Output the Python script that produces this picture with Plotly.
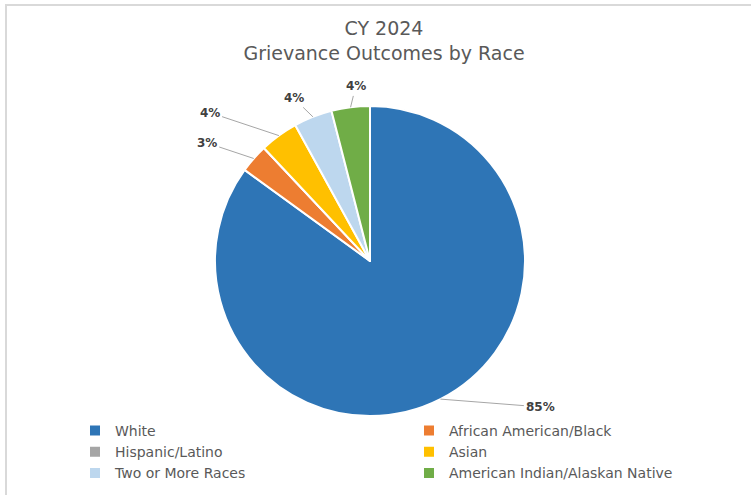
import math
import plotly.graph_objects as go

categories = ["White", "African American/Black", "Hispanic/Latino", "Asian",
              "Two or More Races", "American Indian/Alaskan Native"]
values = [85, 3, 0, 4, 4, 4]
label_text = ["85%", "3%", "", "4%", "4%", "4%"]
colors = ["#2E75B6", "#ED7D31", "#A5A5A5", "#FFC000", "#BDD7EE", "#70AD47"]

# label placement style (radial factor and angle shift per slice)
label_factor = [1.45, 1.30, 1.0, 1.41, 1.16, 1.13]
label_shift = [-22.5, -5.5, 0, -11.2, -3.5, 2.5]

W, H = 751, 495
CX, CY, R = 370, 261, 155          # pie centre / radius in pixels
FONT = "DejaVu Sans"

fig = go.Figure(go.Pie(
    labels=categories, values=values,
    textinfo="none", textposition="none",
    sort=False, direction="clockwise", rotation=0,
    marker=dict(colors=colors, line=dict(color="white", width=2)),
    domain=dict(x=[(CX - R) / W, (CX + R) / W], y=[1 - (CY + R) / H, 1 - (CY - R) / H]),
    hoverinfo="label+percent",
))

# data labels with leader lines, placed from the slice angles
total = sum(values)
cum = 0.0
annotations = []
for v, t, f, s in zip(values, label_text, label_factor, label_shift):
    mid = (cum + v / 2) / total * 360.0
    cum += v
    if not t:
        continue
    a = math.radians(mid)
    tx, ty = CX + R * math.sin(a), CY - R * math.cos(a)
    b = math.radians(mid + s)
    lx, ly = CX + f * R * math.sin(b), CY - f * R * math.cos(b)
    annotations.append(dict(
        x=tx / W, y=1 - ty / H, xref="paper", yref="paper",
        ax=lx - tx, ay=ly - ty, axref="pixel", ayref="pixel",
        text="<b>%s</b>" % t, showarrow=True, arrowhead=0, arrowwidth=1,
        arrowcolor="#A6A6A6", standoff=0, startstandoff=1,
        font=dict(family=FONT, size=12, color="#404040"),
    ))

fig.update_layout(
    width=W, height=H,
    margin=dict(l=0, r=0, t=0, b=0),
    paper_bgcolor="white", plot_bgcolor="white",
    title=dict(text="CY 2024<br>Grievance Outcomes by Race",
               x=384 / W, xanchor="center", y=1 - 35 / H, yanchor="top",
               font=dict(family=FONT, size=19, color="#595959")),
    legend=dict(orientation="h", x=75 / W, xanchor="left", y=1 - 415 / H, yanchor="top",
                entrywidth=289, entrywidthmode="pixels", bgcolor="rgba(0,0,0,0)",
                font=dict(family=FONT, size=14, color="#595959"),
                traceorder="normal"),
    annotations=annotations,
    shapes=[dict(type="rect", xref="paper", yref="paper",
                 x0=6 / W, x1=1 + 10 / W, y0=-10 / H, y1=1 - 5 / H,
                 line=dict(color="#D9D9D9", width=2), layer="below")],
)

fig.write_html("out.html")
